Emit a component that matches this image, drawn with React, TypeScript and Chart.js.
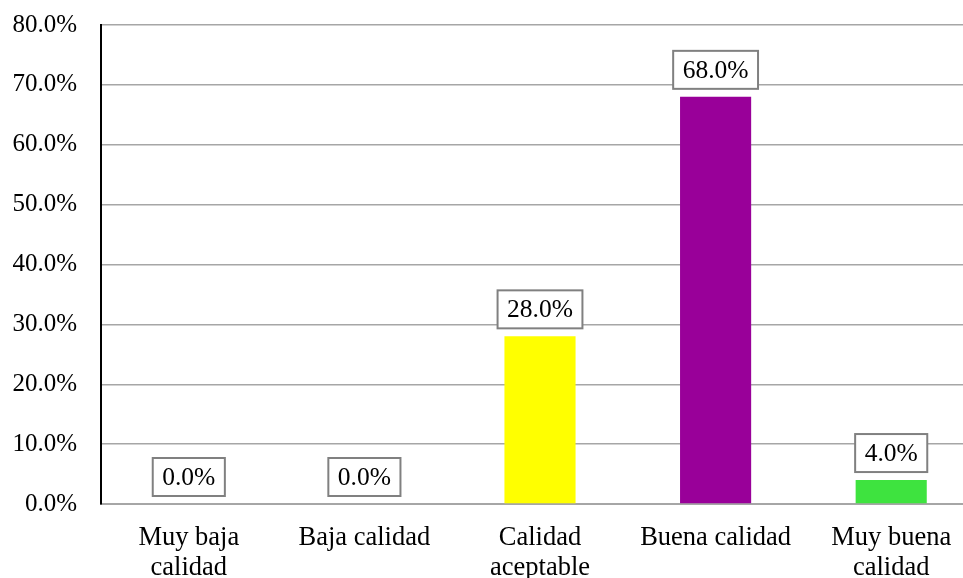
import React, { useEffect, useRef } from "react";
import { Chart, registerables } from "chart.js";

Chart.register(...registerables);

const categories: (string | string[])[] = [
  ["Muy baja", "calidad"],
  "Baja calidad",
  ["Calidad", "aceptable"],
  "Buena calidad",
  ["Muy buena", "calidad"],
];
const values: number[] = [0, 0, 28, 68, 4];
const barColors: string[] = ["#FFFF00", "#FFFF00", "#FFFF00", "#990099", "#3EE33F"];
const yTicks: number[] = [0, 10, 20, 30, 40, 50, 60, 70, 80];

const FONT = "'Liberation Serif', 'Times New Roman', serif";

const boxLabels = {
  id: "boxLabels",
  afterDatasetsDraw(chart: any) {
    const ctx = chart.ctx;
    const meta = chart.getDatasetMeta(0);
    ctx.save();
    ctx.font = `25.5px ${FONT}`;
    ctx.textAlign = "center";
    ctx.textBaseline = "middle";
    meta.data.forEach((el: any, i: number) => {
      const text = values[i].toFixed(1) + "%";
      const w = ctx.measureText(text).width + 19;
      const h = 38;
      const bottom = el.y - 8;
      const top = bottom - h;
      const left = el.x - w / 2;
      ctx.fillStyle = "#ffffff";
      ctx.fillRect(left, top, w, h);
      ctx.strokeStyle = "#808080";
      ctx.lineWidth = 2;
      ctx.strokeRect(left, top, w, h);
      ctx.fillStyle = "#000000";
      ctx.fillText(text, el.x, top + h / 2 + 1);
    });
    ctx.restore();
  },
};

export default function App() {
  const ref = useRef<HTMLCanvasElement | null>(null);
  useEffect(() => {
    if (!ref.current) return;
    const chart = new Chart(ref.current, {
      type: "bar",
      data: {
        labels: categories,
        datasets: [
          {
            data: values,
            backgroundColor: barColors,
            barPercentage: 0.405,
            categoryPercentage: 1,
          },
        ],
      },
      options: {
        animation: false,
        responsive: false,
        maintainAspectRatio: false,
        layout: { padding: { top: 10, right: 0, left: 0, bottom: 0 } },
        plugins: { legend: { display: false }, tooltip: { enabled: false } },
        scales: {
          x: {
            grid: { display: false, drawTicks: false },
            border: { display: true, color: "#a6a6a6", width: 2 },
            ticks: {
              color: "#000",
              font: { family: FONT, size: 26.5, lineHeight: 1.13 },
              padding: 19,
              maxRotation: 0,
              autoSkip: false,
            },
            afterFit: (s: any) => {
              s.height = 74;
            },
          },
          y: {
            min: 0,
            max: 80,
            afterBuildTicks: (s: any) => {
              s.ticks = yTicks.map((v) => ({ value: v }));
            },
            grid: { color: "#a6a6a6", lineWidth: 1.5, drawTicks: false },
            border: { display: true, color: "#000000", width: 2 },
            ticks: {
              color: "#000",
              font: { family: FONT, size: 25 },
              padding: 24,
              callback: (v: any) => Number(v).toFixed(1) + "%",
            },
            afterFit: (s: any) => {
              s.width = 101;
            },
          },
        },
      },
      plugins: [boxLabels],
    });
    return () => chart.destroy();
  }, []);
  return (
    <div
      style={{
        position: "fixed",
        left: 0,
        top: 0,
        width: 963,
        height: 578,
        overflow: "hidden",
        background: "#fff",
      }}
    >
      <canvas
        ref={ref}
        width={979}
        height={592}
        style={{ position: "absolute", left: 0, top: -14, width: 979, height: 592, display: "block" }}
      />
    </div>
  );
}
